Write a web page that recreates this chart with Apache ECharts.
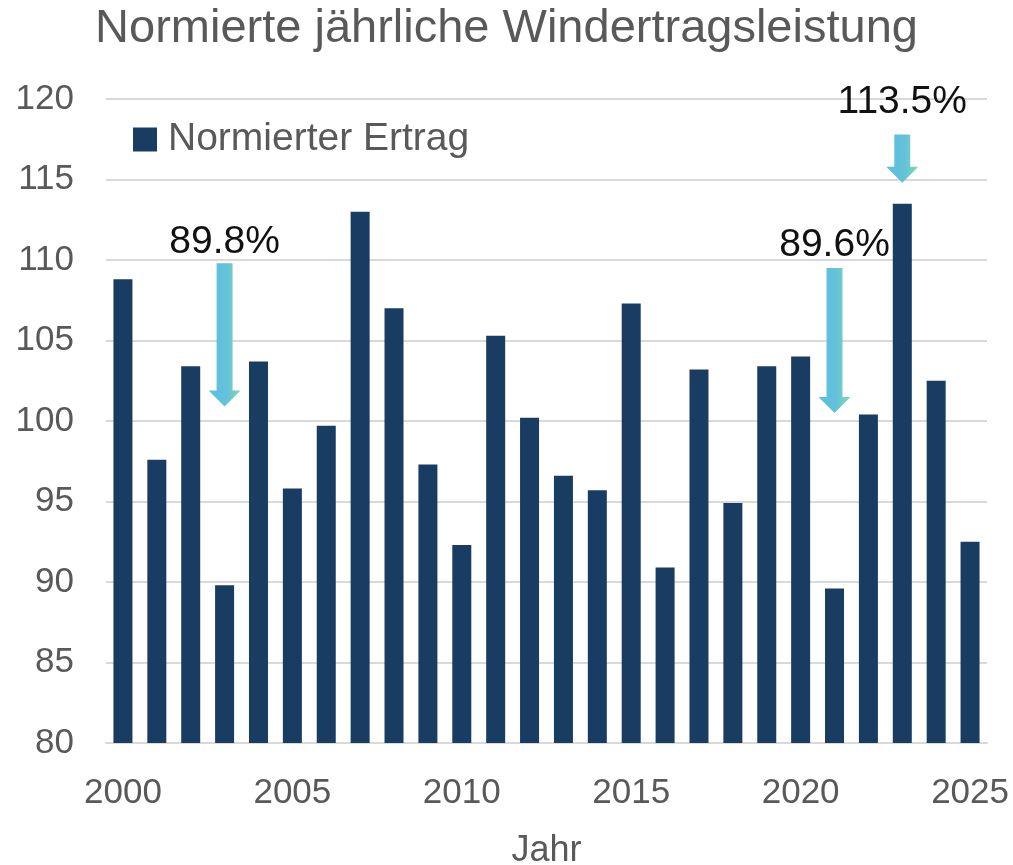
<!DOCTYPE html>
<html>
<head>
<meta charset="utf-8">
<script src="https://cdn.jsdelivr.net/npm/echarts@6/dist/echarts.min.js"></script>
<style>
html,body{margin:0;padding:0;background:#fff;}
#chart{width:1013px;height:865px;}
</style>
</head>
<body>
<div id="chart"></div>
<script>
var jahre = ['2000','2001','2002','2003','2004','2005','2006','2007','2008','2009','2010','2011','2012',
    '2013','2014','2015','2016','2017','2018','2019','2020','2021','2022','2023','2024','2025'];
var ertrag = [108.8,97.6,103.4,89.8,103.7,95.8,99.7,113.0,107.0,97.3,92.3,105.3,100.2,
    96.6,95.7,107.3,90.9,103.2,94.9,103.4,104.0,89.6,100.4,113.5,102.5,92.5];
// Pfeile: Jahr, Anfang, Spitze, Beschriftung, Höhe der Beschriftung
var pfeilJahr = ['2003','2021','2023'];
var pfeilVon = [109.8,109.5,117.8];
var pfeilBis = [100.9,100.5,114.8];
var pfeilText = ['89.8%','89.6%','113.5%'];
var pfeilTextY = [111.1,110.9,119.8];

var grau = '#595959';
var myChart = echarts.init(document.getElementById('chart'));
var option = {
    animation: false,
    title: {
        text: 'Normierte jährliche Windertragsleistung',
        left: 'center',
        top: 1,
        textStyle: {
            fontFamily: 'Liberation Sans',
            fontWeight: 'normal',
            fontSize: 47,
            color: grau
        }
    },
    legend: {
        left: 128,
        top: 115,
        itemWidth: 24,
        itemHeight: 24,
        icon: 'rect',
        textStyle: {fontFamily: 'Liberation Sans', fontSize: 39, color: grau, padding: [0, 0, 0, 6]},
        data: ['Normierter Ertrag']
    },
    grid: {left: 106, right: 26, top: 99, bottom: 122, outerBoundsMode: 'none', containLabel: false},
    xAxis: {
        type: 'category',
        data: jahre,
        name: 'Jahr',
        nameLocation: 'middle',
        nameGap: 90,
        nameTextStyle: {fontFamily: 'Liberation Sans', fontSize: 36, color: grau},
        axisTick: {show: false},
        axisLine: {lineStyle: {color: '#d9d9d9', width: 2}},
        axisLabel: {interval: 4, margin: 33, fontFamily: 'Liberation Sans', fontSize: 35, color: grau}
    },
    yAxis: {
        type: 'value',
        min: 80,
        max: 120,
        interval: 5,
        axisLine: {show: false},
        axisTick: {show: false},
        axisLabel: {margin: 32, fontFamily: 'Liberation Sans', fontSize: 35, color: grau},
        splitLine: {lineStyle: {color: '#d9d9d9', width: 2}}
    },
    series: [{
        name: 'Normierter Ertrag',
        type: 'bar',
        data: ertrag,
        barWidth: 19,
        itemStyle: {color: '#183c62'}
    }]
};
myChart.setOption(option);

// Pfeile und Beschriftungen über die Achsen platzieren
var grafik = [];
var verlauf = new echarts.graphic.LinearGradient(0, 0, 1, 0, [
    {offset: 0, color: '#5cbfe0'},
    {offset: 0.55, color: '#63c1da'},
    {offset: 1, color: '#80dbb0'}
]);
for (var i = 0; i < pfeilJahr.length; i++) {
    var oben = myChart.convertToPixel({seriesIndex: 0}, [pfeilJahr[i], pfeilVon[i]]);
    var spitze = myChart.convertToPixel({seriesIndex: 0}, [pfeilJahr[i], pfeilBis[i]]);
    var txt = myChart.convertToPixel({seriesIndex: 0}, [pfeilJahr[i], pfeilTextY[i]]);
    var x = oben[0], y0 = oben[1], y1 = spitze[1];
    var kopf = 16;
    grafik.push({
        type: 'polygon',
        shape: {points: [
            [x - 8, y0], [x + 8, y0], [x + 8, y1 - kopf], [x + 16, y1 - kopf],
            [x, y1], [x - 16, y1 - kopf], [x - 8, y1 - kopf]
        ]},
        style: {fill: verlauf}
    });
    grafik.push({
        type: 'text',
        x: txt[0],
        y: txt[1],
        style: {
            text: pfeilText[i],
            fontFamily: 'Liberation Sans',
            fontSize: 39,
            fill: '#111',
            align: 'center',
            verticalAlign: 'middle'
        }
    });
}
myChart.setOption({graphic: grafik});
</script>
</body>
</html>
